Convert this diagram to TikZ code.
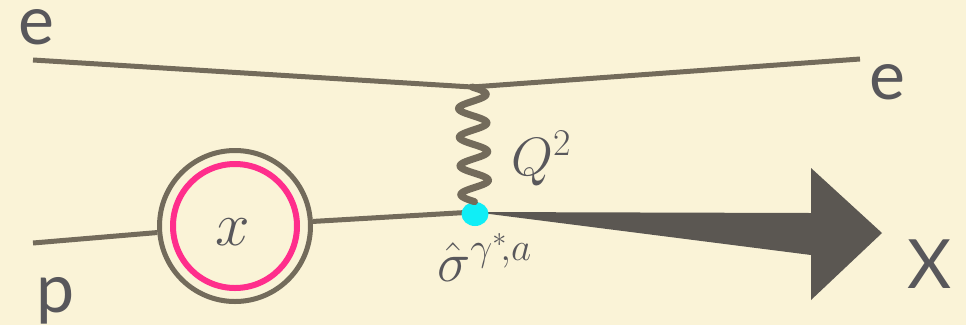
\documentclass[tikz,border=0pt]{standalone}
\usepackage{fix-cm}
\usepackage{fontspec}
\setsansfont{Lato}
\usetikzlibrary{calc,shapes.geometric}
\definecolor{bg}{HTML}{FAF3D7}
\definecolor{ln}{HTML}{736B5B}
\definecolor{arr}{HTML}{5B5752}
\definecolor{pink}{HTML}{FF2E8C}
\definecolor{cyanfill}{HTML}{10EEF6}
\definecolor{txt}{HTML}{58575B}
\begin{document}
\begin{tikzpicture}[x=1pt,y=-1pt,
  fline/.style={draw=ln,line width=5pt},
  lbl/.style={text=txt,inner sep=0pt,font=\sffamily\fontsize{68}{68}\selectfont},
  mlbl/.style={text=txt,inner sep=0pt}]
\fill[bg] (0,0) rectangle (966,325);
\useasboundingbox (0,0) rectangle (966,325);
% coordinates
\coordinate (ein) at (33,60);
\coordinate (v1) at (472,87);
\coordinate (eout) at (860,59);
\coordinate (pin) at (33,243);
\coordinate (v2) at (474,212);
% blob
\node[circle,fline,minimum size=151pt,inner sep=0pt] (blob) at (235,226) {};
\node[circle,draw=pink,line width=6pt,minimum size=124pt,inner sep=0pt] (pdf) at (235,226) {};
\node[mlbl,font=\fontsize{62}{62}\selectfont] (xl) at (233,232) {$x$};
% lines
\draw[ln,line width=5pt] (ein) -- (v1) -- (eout);
\draw[ln,line width=5pt] (pin) -- (blob);
\draw[ln,line width=5pt] (blob) -- (v2);
% big arrow
\coordinate (tip) at (882,233);
\fill[arr] (v2) -- (811,213) -- (811,168) -- (tip) -- (811,300) -- (811,255) -- cycle;
% vertex dot
\node[ellipse,fill=cyanfill,minimum width=27pt,minimum height=24pt,inner sep=0pt] (dot) at (475,214) {};
% photon
\draw[ln,line width=7pt,line cap=round] let \p1=(v1), \p2=(dot.north) in
  plot[variable=\t,domain=0:1,samples=161,smooth]
  ({\x1+(\x2-\x1)*\t+14*sin(4*360*\t)},{\y1+(\y2-\y1)*\t});
% labels
\node[lbl] (e1) at (36,27) {e};
\node[lbl] (e2) at (887,82) {e};
\node[lbl,anchor=base west] (p) at (36,312) {p};
\node[lbl] (X) at (930,264) {X};
\node[mlbl,anchor=base west,font=\fontsize{54}{54}\selectfont] (Q) at (511,175) {$Q^2$};
\node[mlbl,anchor=base west,font=\fontsize{56}{56}\selectfont] (sig) at (437,281) {$\hat\sigma^{\gamma^*\!,a}$};
\end{tikzpicture}
\end{document}
